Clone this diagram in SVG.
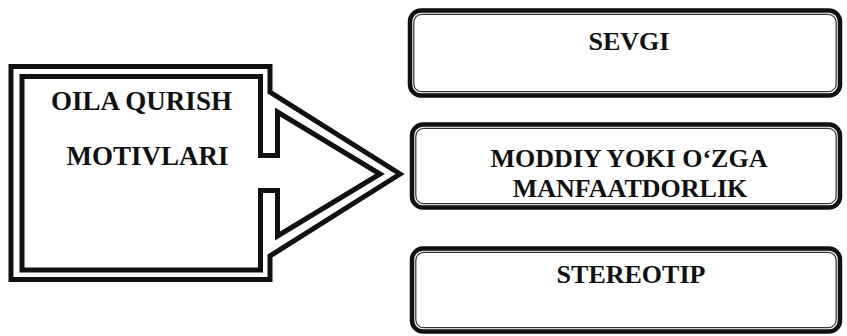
<svg xmlns="http://www.w3.org/2000/svg" width="847" height="336" viewBox="0 0 847 336">
<style>
.bg{fill:#ffffff}
.frame{fill:none;stroke:#111;stroke-width:5;stroke-linejoin:miter;stroke-miterlimit:10}
.box{fill:#ffffff;stroke:#111;stroke-width:4.5}
.boxin{fill:none;stroke:#333;stroke-width:1.2}
.t{font-family:"Liberation Serif","Times New Roman",serif;font-weight:bold;font-size:26px;fill:#111;text-anchor:middle}
.tl{font-size:27px}
</style>
<rect class="bg" x="0" y="0" width="847" height="336"/>
<g id="motivlar">
<path class="frame" d="M11,66.5 H270 V92 L400,174 L270,256 V279.5 H11 Z"/>
<path class="frame" d="M22,76.5 H260.5 V155.5 H277.5 V112 L380,174 L277.5,236 V190.5 H260.5 V270 H22 Z"/>
<text class="t tl" x="141.5" y="110">OILA QURISH</text>
<text class="t tl" x="147.5" y="165">MOTIVLARI</text>
</g>
<g id="connectors"></g>
<g id="sevgi">
<rect class="box" x="410" y="10.5" width="430" height="85" rx="11"/>
<rect class="boxin" x="413.8" y="14.3" width="422.4" height="77.4" rx="8"/>
<text class="t" x="629" y="50">SEVGI</text>
</g>
<g id="moddiy">
<rect class="box" x="412" y="124.5" width="428" height="83" rx="11"/>
<rect class="boxin" x="415.8" y="128.3" width="420.4" height="75.4" rx="8"/>
<text class="t" x="629" y="167">MODDIY YOKI O‘ZGA</text>
<text class="t" x="630" y="197">MANFAATDORLIK</text>
</g>
<g id="stereotip">
<rect class="box" x="412" y="248.5" width="428" height="83" rx="11"/>
<rect class="boxin" x="415.8" y="252.3" width="420.4" height="75.4" rx="8"/>
<text class="t" x="631" y="283">STEREOTIP</text>
</g>
</svg>
